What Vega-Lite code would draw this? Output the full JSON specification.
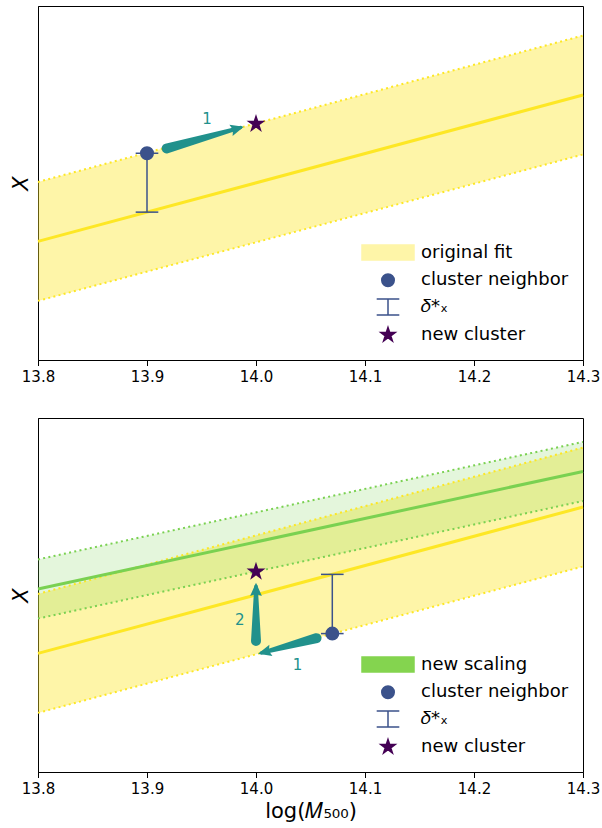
{
  "$schema": "https://vega.github.io/schema/vega-lite/v6.json",
  "padding": {"left": 9, "top": 5, "right": 10, "bottom": 2},
  "background": "white",
  "config": {
    "font": "DejaVu Sans",
    "view": {"stroke": "#000", "strokeWidth": 1},
    "axis": {
      "domainColor": "#000", "tickColor": "#000", "labelColor": "#000",
      "labelFont": "DejaVu Sans", "labelFontSize": 15, "tickSize": 5.5, "labelPadding": 4,
      "grid": false, "titleFont": "DejaVu Sans", "titleFontSize": 21, "titleFontWeight": "normal", "titleColor": "#000"
    },
    "legend": {
      "title": null, "orient": "none", "legendX": 336, "legendY": 232.5, "symbolSize": 676, "symbolStrokeWidth": 1.5,
      "labelOffset": 19, "rowPadding": 2.8, "labelFontSize": 18, "labelFont": "DejaVu Sans", "labelColor": "#000", "padding": 0, "labelLimit": 300
    }
  },
  "datasets": {
    "fit": [
      {"x": 13.8, "lo": 1.67, "mid": 3.35, "hi": 5.03},
      {"x": 14.3, "lo": 5.805, "mid": 7.485, "hi": 9.165}
    ],
    "newfit": [
      {"x": 13.8, "lo": 4.335, "mid": 5.17, "hi": 6.005},
      {"x": 14.3, "lo": 7.655, "mid": 8.49, "hi": 9.325}
    ],
    "errTop": [{"x": 13.9, "lo": 4.177, "hi": 5.84}],
    "errBot": [{"x": 14.07, "lo": 3.91, "hi": 5.583}],
    "arrTop": [
      {"arrow": "1", "end": "tail", "x": 13.918, "y": 5.975},
      {"arrow": "1", "end": "tip", "x": 13.9857, "y": 6.565}
    ],
    "arrBot": [
      {"arrow": "1", "end": "tail", "x": 14.0555, "y": 3.78},
      {"arrow": "1", "end": "tip", "x": 14.005, "y": 3.364},
      {"arrow": "2", "end": "tail", "x": 14.0, "y": 3.7},
      {"arrow": "2", "end": "tip", "x": 14.0, "y": 5.247}
    ],
    "labTop": [{"x": 13.955, "y": 6.808, "label": "1"}],
    "labBot": [
      {"x": 13.985, "y": 4.302, "label": "2"},
      {"x": 14.038, "y": 3.031, "label": "1"}
    ],
    "ptsTop": [
      {"x": 13.9, "y": 5.84, "item": "cluster neighbor"},
      {"x": 14.0, "y": 6.67, "item": "new cluster"}
    ],
    "ptsBot": [
      {"x": 14.07, "y": 3.91, "item": "cluster neighbor"},
      {"x": 14.0, "y": 5.66, "item": "new cluster"}
    ]
  },
  "spacing": 32,
  "resolve": {
    "scale": {"color": "independent", "shape": "independent", "stroke": "independent"},
    "legend": {"color": "independent", "shape": "independent", "stroke": "independent"}
  },
  "vconcat": [
    {
      "width": 545, "height": 354,
      "encoding": {
        "x": {"type": "quantitative", "scale": {"domain": [13.8, 14.3], "nice": false, "zero": false},
              "axis": {"values": [13.8, 13.9, 14.0, 14.1, 14.2, 14.3], "format": ".1f", "title": null, "labelFlush": false}},
        "y": {"type": "quantitative", "scale": {"domain": [0, 10], "nice": false, "zero": false},
              "axis": {"title": "X", "labels": false, "ticks": false, "titleFontStyle": "italic", "titlePadding": 7}}
      },
      "layer": [
        {"data": {"name": "fit"}, "mark": {"type": "area", "color": "#fde725", "opacity": 0.4},
         "encoding": {"x": {"field": "x"}, "y": {"field": "lo"}, "y2": {"field": "hi"}}},
        {"data": {"name": "fit"}, "mark": {"type": "line", "color": "#fde725", "strokeWidth": 2, "strokeDash": [2, 3.3]},
         "encoding": {"x": {"field": "x"}, "y": {"field": "hi"}}},
        {"data": {"name": "fit"}, "mark": {"type": "line", "color": "#fde725", "strokeWidth": 2, "strokeDash": [2, 3.3]},
         "encoding": {"x": {"field": "x"}, "y": {"field": "lo"}}},
        {"data": {"name": "fit"}, "mark": {"type": "line", "color": "#fde725", "strokeWidth": 3},
         "encoding": {"x": {"field": "x"}, "y": {"field": "mid"}}},
        {"data": {"name": "errTop"}, "mark": {"type": "rule", "color": "#3b528b", "strokeWidth": 1.5},
         "encoding": {"x": {"field": "x"}, "y": {"field": "lo"}, "y2": {"field": "hi"}}},
        {"data": {"name": "errTop"}, "mark": {"type": "point", "shape": "M-0.87,0H0.87", "size": 676, "stroke": "#3b528b", "strokeWidth": 1.5, "filled": false, "opacity": 1},
         "encoding": {"x": {"field": "x"}, "y": {"field": "lo"}}},
        {"data": {"name": "errTop"}, "mark": {"type": "point", "shape": "M-0.87,0H0.87", "size": 676, "stroke": "#3b528b", "strokeWidth": 1.5, "filled": false, "opacity": 1},
         "encoding": {"x": {"field": "x"}, "y": {"field": "hi"}}},
        {"data": {"name": "arrTop"}, "mark": {"type": "trail", "color": "#21918c"},
         "encoding": {"x": {"field": "x"}, "y": {"field": "y"}, "detail": {"field": "arrow", "type": "nominal"},
                      "order": {"value": null},
                      "size": {"field": "end", "type": "ordinal", "scale": {"type": "ordinal", "domain": ["tail", "tip"], "range": [10, 3.5]}, "legend": null}}},
        {"data": {"name": "arrTop"}, "transform": [{"filter": "datum.end == 'tip'"}],
         "mark": {"type": "point", "shape": "M0,-0.25L-0.42,0.7L0,0.55L0.42,0.7Z", "size": 784, "filled": true, "color": "#21918c", "opacity": 1, "angle": 74.1},
         "encoding": {"x": {"field": "x"}, "y": {"field": "y"}}},
        {"data": {"name": "labTop"}, "mark": {"type": "text", "color": "#21918c", "fontSize": 15, "align": "center", "baseline": "middle"},
         "encoding": {"x": {"field": "x"}, "y": {"field": "y"}, "text": {"field": "label"}}},
        {"data": {"name": "ptsTop"}, "mark": {"type": "point", "filled": true, "size": 676, "opacity": 1, "strokeWidth": 1.5},
         "encoding": {
           "x": {"field": "x"}, "y": {"field": "y"},
           "color": {"field": "item", "type": "nominal",
             "scale": {"domain": ["original fit", "cluster neighbor", "𝛿*ₓ", "new cluster"], "range": ["#fef5a8", "#3b528b", "#3b528b", "#440154"]}},
           "stroke": {"field": "item", "type": "nominal",
             "scale": {"domain": ["original fit", "cluster neighbor", "𝛿*ₓ", "new cluster"], "range": ["#fef5a8", "#3b528b", "#3b528b", "#440154"]}},
           "shape": {"field": "item", "type": "nominal",
             "scale": {"domain": ["original fit", "cluster neighbor", "𝛿*ₓ", "new cluster"],
                       "range": ["M-2,-0.577H2V0.577H-2Z", "M0.48,0A0.48,0.48,0,1,1,-0.48,0A0.48,0.48,0,1,1,0.48,0Z", "M-0.87,-0.615H0.87M0,-0.615V0.615M-0.87,0.615H0.87", "M0,-0.577L0.13,-0.178L0.549,-0.178L0.21,0.068L0.339,0.467L0,0.22L-0.339,0.467L-0.21,0.068L-0.549,-0.178L-0.13,-0.178Z"]}}
         }}
      ]
    },
    {
      "width": 545, "height": 354,
      "encoding": {
        "x": {"type": "quantitative", "scale": {"domain": [13.8, 14.3], "nice": false, "zero": false},
              "axis": {"values": [13.8, 13.9, 14.0, 14.1, 14.2, 14.3], "format": ".1f", "title": "log(𝑀₅₀₀)", "labelFlush": false, "titlePadding": 4}},
        "y": {"type": "quantitative", "scale": {"domain": [0, 10], "nice": false, "zero": false},
              "axis": {"title": "X", "labels": false, "ticks": false, "titleFontStyle": "italic", "titlePadding": 7}}
      },
      "layer": [
        {"data": {"name": "fit"}, "mark": {"type": "area", "color": "#fde725", "opacity": 0.4},
         "encoding": {"x": {"field": "x"}, "y": {"field": "lo"}, "y2": {"field": "hi"}}},
        {"data": {"name": "newfit"}, "mark": {"type": "area", "color": "#7ad151", "opacity": 0.2},
         "encoding": {"x": {"field": "x"}, "y": {"field": "lo"}, "y2": {"field": "hi"}}},
        {"data": {"name": "fit"}, "mark": {"type": "line", "color": "#fde725", "strokeWidth": 2, "strokeDash": [2, 3.3]},
         "encoding": {"x": {"field": "x"}, "y": {"field": "hi"}}},
        {"data": {"name": "fit"}, "mark": {"type": "line", "color": "#fde725", "strokeWidth": 2, "strokeDash": [2, 3.3]},
         "encoding": {"x": {"field": "x"}, "y": {"field": "lo"}}},
        {"data": {"name": "fit"}, "mark": {"type": "line", "color": "#fde725", "strokeWidth": 3},
         "encoding": {"x": {"field": "x"}, "y": {"field": "mid"}}},
        {"data": {"name": "newfit"}, "mark": {"type": "line", "color": "#7ad151", "strokeWidth": 2, "strokeDash": [2, 3.3]},
         "encoding": {"x": {"field": "x"}, "y": {"field": "hi"}}},
        {"data": {"name": "newfit"}, "mark": {"type": "line", "color": "#7ad151", "strokeWidth": 2, "strokeDash": [2, 3.3]},
         "encoding": {"x": {"field": "x"}, "y": {"field": "lo"}}},
        {"data": {"name": "newfit"}, "mark": {"type": "line", "color": "#7ad151", "strokeWidth": 3},
         "encoding": {"x": {"field": "x"}, "y": {"field": "mid"}}},
        {"data": {"name": "errBot"}, "mark": {"type": "rule", "color": "#3b528b", "strokeWidth": 1.5},
         "encoding": {"x": {"field": "x"}, "y": {"field": "lo"}, "y2": {"field": "hi"}}},
        {"data": {"name": "errBot"}, "mark": {"type": "point", "shape": "M-0.87,0H0.87", "size": 676, "stroke": "#3b528b", "strokeWidth": 1.5, "filled": false, "opacity": 1},
         "encoding": {"x": {"field": "x"}, "y": {"field": "lo"}}},
        {"data": {"name": "errBot"}, "mark": {"type": "point", "shape": "M-0.87,0H0.87", "size": 676, "stroke": "#3b528b", "strokeWidth": 1.5, "filled": false, "opacity": 1},
         "encoding": {"x": {"field": "x"}, "y": {"field": "hi"}}},
        {"data": {"name": "arrBot"}, "mark": {"type": "trail", "color": "#21918c"},
         "encoding": {"x": {"field": "x"}, "y": {"field": "y"}, "detail": {"field": "arrow", "type": "nominal"},
                      "order": {"value": null},
                      "size": {"field": "end", "type": "ordinal", "scale": {"type": "ordinal", "domain": ["tail", "tip"], "range": [10, 3.5]}, "legend": null}}},
        {"data": {"name": "arrBot"}, "transform": [{"filter": "datum.end == 'tip'"}],
         "mark": {"type": "point", "shape": "M0,-0.25L-0.42,0.7L0,0.55L0.42,0.7Z", "size": 784, "filled": true, "color": "#21918c", "opacity": 1},
         "encoding": {"x": {"field": "x"}, "y": {"field": "y"},
                      "angle": {"field": "arrow", "type": "nominal", "scale": {"type": "ordinal", "domain": ["1", "2"], "range": [255, 0]}, "legend": null}}},
        {"data": {"name": "labBot"}, "mark": {"type": "text", "color": "#21918c", "fontSize": 15, "align": "center", "baseline": "middle"},
         "encoding": {"x": {"field": "x"}, "y": {"field": "y"}, "text": {"field": "label"}}},
        {"data": {"name": "ptsBot"}, "mark": {"type": "point", "filled": true, "size": 676, "opacity": 1, "strokeWidth": 1.5},
         "encoding": {
           "x": {"field": "x"}, "y": {"field": "y"},
           "color": {"field": "item", "type": "nominal",
             "scale": {"domain": ["new scaling", "cluster neighbor", "𝛿*ₓ", "new cluster"], "range": ["#84d44f", "#3b528b", "#3b528b", "#440154"]}},
           "stroke": {"field": "item", "type": "nominal",
             "scale": {"domain": ["new scaling", "cluster neighbor", "𝛿*ₓ", "new cluster"], "range": ["#84d44f", "#3b528b", "#3b528b", "#440154"]}},
           "shape": {"field": "item", "type": "nominal",
             "scale": {"domain": ["new scaling", "cluster neighbor", "𝛿*ₓ", "new cluster"],
                       "range": ["M-2,-0.577H2V0.577H-2Z", "M0.48,0A0.48,0.48,0,1,1,-0.48,0A0.48,0.48,0,1,1,0.48,0Z", "M-0.87,-0.615H0.87M0,-0.615V0.615M-0.87,0.615H0.87", "M0,-0.577L0.13,-0.178L0.549,-0.178L0.21,0.068L0.339,0.467L0,0.22L-0.339,0.467L-0.21,0.068L-0.549,-0.178L-0.13,-0.178Z"]}}
         }}
      ]
    }
  ]
}
